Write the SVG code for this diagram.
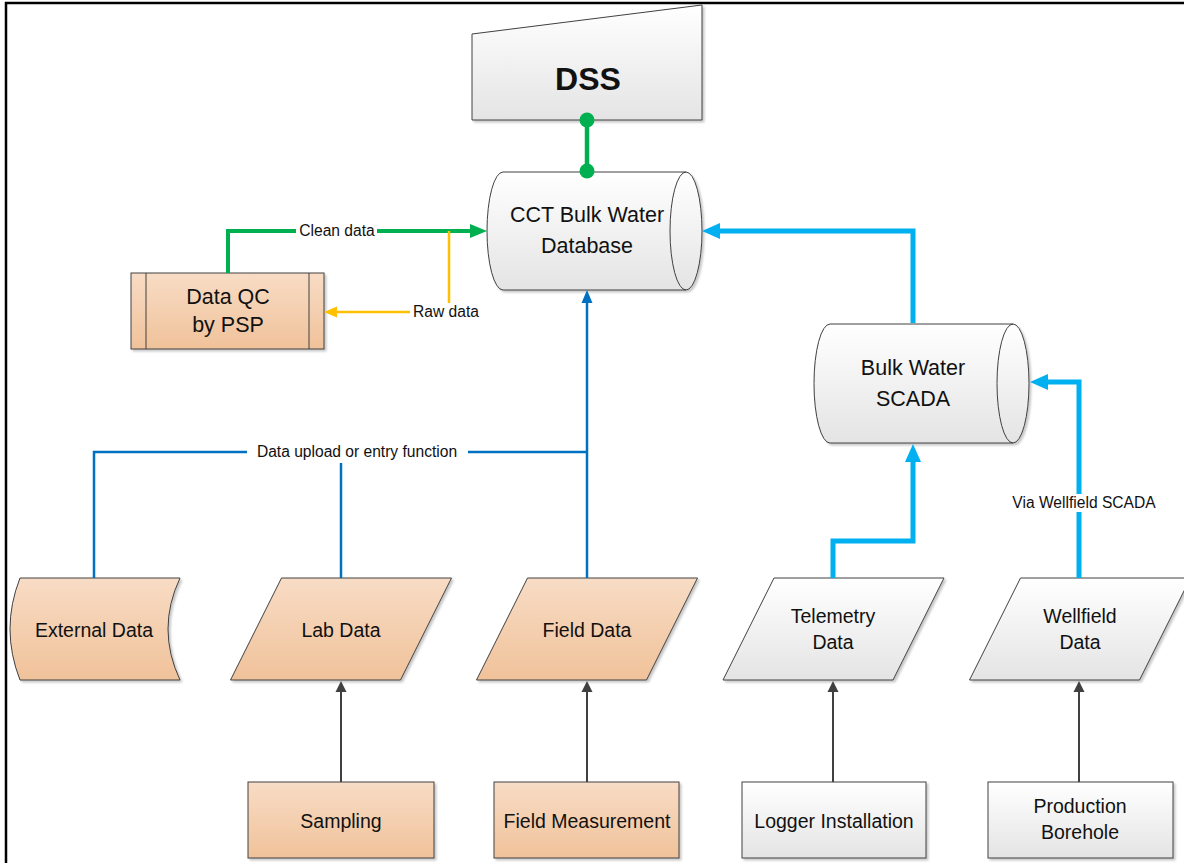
<svg xmlns="http://www.w3.org/2000/svg" width="1184" height="863" viewBox="0 0 1184 863">
<style>
.shape{stroke:#404040;stroke-width:1;}
.gray{fill:url(#gGray);}
.orange{fill:url(#gOrange);}
.t{font-family:"Liberation Sans",Arial,sans-serif;fill:#111;text-anchor:middle;}
.big{font-size:21.5px;}
.mid{font-size:19.5px;}
.lbl{font-family:"Liberation Sans",Arial,sans-serif;font-size:15.6px;fill:#111;text-anchor:middle;}
.conn{fill:none;stroke-linejoin:miter;}
</style>
<defs>
<linearGradient id="gGray" x1="0" y1="0" x2="0" y2="1">
<stop offset="0" stop-color="#ffffff"/><stop offset="1" stop-color="#e4e4e4"/>
</linearGradient>
<linearGradient id="gOrange" x1="0" y1="0" x2="0" y2="1">
<stop offset="0" stop-color="#F8DCC5"/><stop offset="1" stop-color="#F0C29A"/>
</linearGradient>
<filter id="sh" x="-10%" y="-10%" width="120%" height="130%">
<feDropShadow dx="2" dy="2" stdDeviation="1" flood-color="#000" flood-opacity="0.22"/>
</filter>
<marker id="aGreen" markerUnits="userSpaceOnUse" markerWidth="18" markerHeight="16" refX="3" refY="8" orient="auto"><path d="M0,1 L17,8 L0,15 Z" fill="#00B050"/></marker>
<marker id="aYellow" markerUnits="userSpaceOnUse" markerWidth="14" markerHeight="12" refX="3" refY="6" orient="auto"><path d="M0,0.5 L13,6 L0,11.5 Z" fill="#FFC000"/></marker>
<marker id="aBlue" markerUnits="userSpaceOnUse" markerWidth="14" markerHeight="12" refX="3" refY="6" orient="auto"><path d="M0,0.5 L13,6 L0,11.5 Z" fill="#0070C0"/></marker>
<marker id="aCyan" markerUnits="userSpaceOnUse" markerWidth="19" markerHeight="18" refX="3" refY="9" orient="auto"><path d="M0,1 L18,9 L0,17 Z" fill="#00B0F0"/></marker>
<marker id="aGray" markerUnits="userSpaceOnUse" markerWidth="12" markerHeight="12" refX="3" refY="6" orient="auto"><path d="M0,0.5 L11,6 L0,11.5 Z" fill="#404040"/></marker>
</defs>
<rect width="1184" height="863" fill="#ffffff"/>
<path d="M6,863 V3 H1184" fill="none" stroke="#000" stroke-width="2.5"/>

<g id="dss">
<path class="shape gray" filter="url(#sh)" d="M472,34 L702,5 V120 H472 Z"/>
<text class="t" x="588" y="90" style="font-size:32px;font-weight:bold">DSS</text>
</g>

<g id="cct-db">
<path class="shape gray" filter="url(#sh)" d="M503,172 H686 A16,59 0 0 1 686,290 H503 A16,59 0 0 1 503,172 Z"/>
<path class="shape" fill="none" d="M686,172 A16,59 0 0 0 686,290"/>
<text class="t big" x="587" y="222">CCT Bulk Water</text>
<text class="t big" x="587" y="253">Database</text>
</g>

<g id="data-qc">
<rect class="shape orange" filter="url(#sh)" x="131" y="273" width="193" height="76"/>
<line class="shape" x1="146" y1="273" x2="146" y2="349"/>
<line class="shape" x1="309" y1="273" x2="309" y2="349"/>
<text class="t big" x="228" y="304">Data QC</text>
<text class="t big" x="228" y="332">by PSP</text>
</g>

<g id="scada">
<path class="shape gray" filter="url(#sh)" d="M830,324 H1013 A16,59.5 0 0 1 1013,443 H830 A16,59.5 0 0 1 830,324 Z"/>
<path class="shape" fill="none" d="M1013,324 A16,59.5 0 0 0 1013,443"/>
<text class="t big" x="913" y="375">Bulk Water</text>
<text class="t big" x="913" y="406">SCADA</text>
</g>

<g id="external-data">
<path class="shape orange" filter="url(#sh)" d="M20,578 H180 Q156,629 180,680 H20 Q0,629 20,578 Z"/>
<text class="t mid" x="94" y="637">External Data</text>
</g>

<g id="lab-data">
<path class="shape orange" filter="url(#sh)" d="M281.5,578 H451.5 L400.5,680 H230.5 Z"/>
<text class="t mid" x="341" y="637">Lab Data</text>
</g>

<g id="field-data">
<path class="shape orange" filter="url(#sh)" d="M527.5,578 H697.5 L646.5,680 H476.5 Z"/>
<text class="t mid" x="587" y="637">Field Data</text>
</g>

<g id="telemetry-data">
<path class="shape gray" filter="url(#sh)" d="M774,578 H944 L893,680 H723 Z"/>
<text class="t mid" x="833" y="623">Telemetry</text>
<text class="t mid" x="833" y="649">Data</text>
</g>

<g id="wellfield-data">
<path class="shape gray" filter="url(#sh)" d="M1020.5,578 H1190.5 L1139.5,680 H969.5 Z"/>
<text class="t mid" x="1080" y="623">Wellfield</text>
<text class="t mid" x="1080" y="649">Data</text>
</g>

<g id="sampling">
<rect class="shape orange" filter="url(#sh)" x="248" y="782" width="186" height="76"/>
<text class="t mid" x="341" y="828">Sampling</text>
</g>

<g id="field-measurement">
<rect class="shape orange" filter="url(#sh)" x="494" y="782" width="185" height="76"/>
<text class="t mid" x="587" y="828">Field Measurement</text>
</g>

<g id="logger-installation">
<rect class="shape gray" filter="url(#sh)" x="742" y="782" width="184" height="76"/>
<text class="t mid" x="834" y="828">Logger Installation</text>
</g>

<g id="production-borehole">
<rect class="shape gray" filter="url(#sh)" x="988" y="782" width="185" height="76"/>
<text class="t mid" x="1080" y="813">Production</text>
<text class="t mid" x="1080" y="839">Borehole</text>
</g>

<g id="connectors">
<line x1="587" y1="120" x2="587" y2="171" stroke="#00B050" stroke-width="4.5"/>
<circle cx="587" cy="120" r="7.5" fill="#00B050"/>
<circle cx="587" cy="171" r="7.5" fill="#00B050"/>
<path class="conn" d="M228,273 V231 H473" stroke="#00B050" stroke-width="4" marker-end="url(#aGreen)"/>
<path class="conn" d="M449,231 V312 H334" stroke="#FFC000" stroke-width="2.5" marker-end="url(#aYellow)"/>
<path class="conn" d="M587,578 V300" stroke="#0070C0" stroke-width="2.5" marker-end="url(#aBlue)"/>
<path class="conn" d="M94,578 V452 H587" stroke="#0070C0" stroke-width="2.5"/>
<path class="conn" d="M341,578 V452" stroke="#0070C0" stroke-width="2.5"/>
<path class="conn" d="M913,323 V231 H717" stroke="#00B0F0" stroke-width="5" marker-end="url(#aCyan)"/>
<path class="conn" d="M833,578 V541 H913 V459" stroke="#00B0F0" stroke-width="5" marker-end="url(#aCyan)"/>
<path class="conn" d="M1079,578 V382 H1045" stroke="#00B0F0" stroke-width="5" marker-end="url(#aCyan)"/>
<path class="conn" d="M341,782 V689" stroke="#404040" stroke-width="2" marker-end="url(#aGray)"/>
<path class="conn" d="M587,782 V689" stroke="#404040" stroke-width="2" marker-end="url(#aGray)"/>
<path class="conn" d="M833,782 V689" stroke="#404040" stroke-width="2" marker-end="url(#aGray)"/>
<path class="conn" d="M1079,782 V689" stroke="#404040" stroke-width="2" marker-end="url(#aGray)"/>
<rect x="296" y="222" width="81" height="18" fill="#fff"/>
<text class="lbl" x="337" y="236">Clean data</text>
<rect x="410" y="303" width="73" height="18" fill="#fff"/>
<text class="lbl" x="446" y="317">Raw data</text>
<rect x="247" y="443" width="221" height="20" fill="#fff"/>
<text class="lbl" x="357" y="457">Data upload or entry function</text>
<rect x="1008" y="494" width="152" height="18" fill="#fff"/>
<text class="lbl" x="1084" y="508">Via Wellfield SCADA</text>
</g>
</svg>
